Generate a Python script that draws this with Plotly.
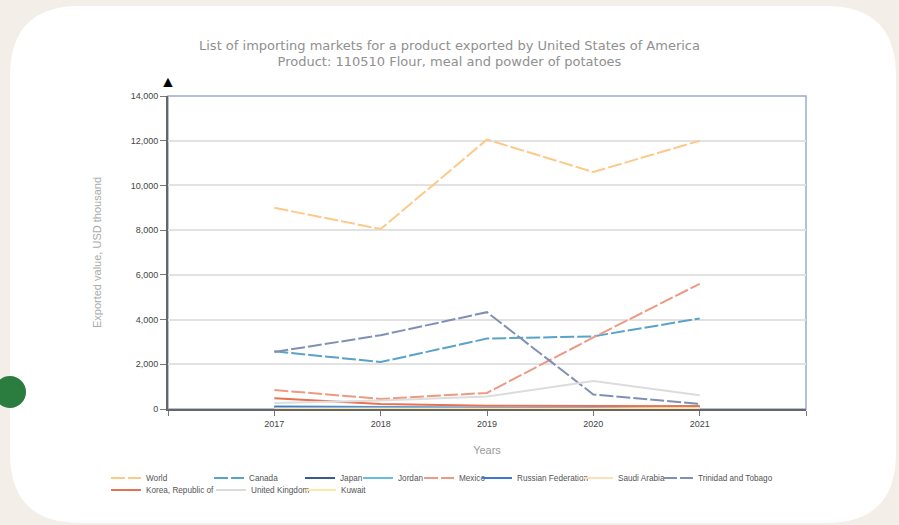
import plotly.graph_objects as go

# data (USD thousand)
years = [2017, 2018, 2019, 2020, 2021]

world = [9000, 8050, 12050, 10600, 12000]
canada = [2580, 2100, 3150, 3250, 4050]
japan = [30, 20, 40, 20, 60]
jordan = [120, 90, 60, 40, 150]
mexico = [850, 450, 720, 3200, 5600]
russia = [90, 60, 50, 30, 80]
saudi = [20, 10, 30, 10, 40]
trinidad = [2550, 3300, 4330, 650, 230]
korea = [480, 220, 150, 150, 120]
uk = [270, 380, 560, 1250, 620]
kuwait = [10, 5, 20, 10, 30]

names = ["World", "Canada", "Japan", "Jordan", "Mexico", "Russian Federation",
         "Saudi Arabia", "Trinidad and Tobago", "Korea, Republic of",
         "United Kingdom", "Kuwait"]
series = [world, canada, japan, jordan, mexico, russia, saudi, trinidad,
          korea, uk, kuwait]
colors = ["#fdc98a", "#5aa2c8", "#3d5a8c", "#67bde6", "#ee9a82", "#3a78d8",
          "#fde0b8", "#8090b4", "#e8714f", "#dcdcdc", "#fde8a8"]
dashes = ["14px,3px", "14px,3px", "solid", "solid", "14px,3px", "solid",
          "solid", "14px,3px", "solid", "solid", "solid"]

W, H = 899, 525
L, R, T, B = 168, 93, 96, 116
pw, ph = W - L - R, H - T - B


def px(x):
    return (x - L) / pw


def py(y):
    return (H - B - y) / ph


# legend entries sit in a grid like the original (text start x, row y)
leg_x = [146, 249, 340, 398, 459, 517, 618, 698, 146, 251, 341]
leg_y = [478, 478, 478, 478, 478, 478, 478, 478, 490, 490, 490]

# rounded white card behind the chart
x0, x1, y0, y1, r = 10, 896, 6, 523, 70
card = (f"M {px(x0 + r)},{py(y0)} L {px(x1 - r)},{py(y0)} "
        f"Q {px(x1)},{py(y0)} {px(x1)},{py(y0 + r)} "
        f"L {px(x1)},{py(y1 - r)} Q {px(x1)},{py(y1)} {px(x1 - r)},{py(y1)} "
        f"L {px(x0 + r)},{py(y1)} Q {px(x0)},{py(y1)} {px(x0)},{py(y1 - r)} "
        f"L {px(x0)},{py(y0 + r)} Q {px(x0)},{py(y0)} {px(x0 + r)},{py(y0)} Z")

fig = go.Figure()
legends = {}
for i, (n, s, c, d) in enumerate(zip(names, series, colors, dashes)):
    key = "legend" if i == 0 else f"legend{i + 1}"
    fig.add_trace(go.Scatter(
        x=years, y=s, mode="lines", name=n,
        line=dict(color=c, width=2, dash=d),
        legend=key, showlegend=True,
    ))
    legends[key] = dict(
        x=px(leg_x[i] - 40), y=py(leg_y[i]), xanchor="left", yanchor="middle",
        font=dict(family="Liberation Sans", size=8.2, color="#555"),
        bgcolor="rgba(0,0,0,0)", itemwidth=30, borderwidth=0,
    )

fig.update_layout(
    width=W, height=H,
    margin=dict(l=L, r=R, t=T, b=B),
    showlegend=True,
    paper_bgcolor="#f3efe8",
    plot_bgcolor="rgba(0,0,0,0)",
    title=dict(
        text="List of importing markets for a product exported by United States of America"
             "<br>Product: 110510 Flour, meal and powder of potatoes",
        font=dict(family="DejaVu Sans", size=13, color="#909090"),
        x=0.5, xref="container", xanchor="center", y=1 - 49.5 / H, yanchor="middle",
    ),
    xaxis=dict(
        range=[2016, 2022], tickvals=[2016, 2017, 2018, 2019, 2020, 2021, 2022],
        ticktext=["", "2017", "2018", "2019", "2020", "2021", ""],
        showgrid=False, zeroline=False,
        showline=True, linecolor="#666", linewidth=2,
        ticks="outside", ticklen=5, tickcolor="#777",
        tickfont=dict(family="Liberation Sans", size=9, color="#444"),
        title=dict(text="Years", font=dict(family="Liberation Sans", size=11, color="#999"),
                   standoff=19),
    ),
    yaxis=dict(
        range=[0, 14000], dtick=2000, tickformat=",",
        showgrid=True, gridcolor="#e2e2e2", gridwidth=1.5, zeroline=False,
        showline=True, linecolor="#666", linewidth=2,
        ticks="outside", ticklen=6, tickcolor="#777",
        tickfont=dict(family="Liberation Sans", size=9, color="#444"),
        title=dict(text="Exported value, USD thousand",
                   font=dict(family="Liberation Sans", size=11, color="#aaa"),
                   standoff=27),
    ),
    shapes=[
        dict(type="path", path=card, xref="paper", yref="paper",
             fillcolor="white", line=dict(width=0), layer="below"),
        dict(type="rect", xref="paper", yref="paper", x0=0, x1=1, y0=0, y1=1,
             line=dict(color="#9aaccb", width=1.5), layer="below"),
        dict(type="circle", xref="paper", yref="paper",
             x0=px(-6), x1=px(26), y0=py(376), y1=py(408),
             fillcolor="#2a7d3e", line=dict(width=0)),
    ],
    annotations=[
        dict(text="▲", x=0, y=1, xref="paper", yref="paper", showarrow=False,
             xanchor="center", yanchor="bottom", yshift=2,
             font=dict(size=16, color="#000")),
    ],
    **legends,
)

fig.write_html("out.html", config={"displayModeBar": False},
               post_script="document.body.style.margin='0';")
